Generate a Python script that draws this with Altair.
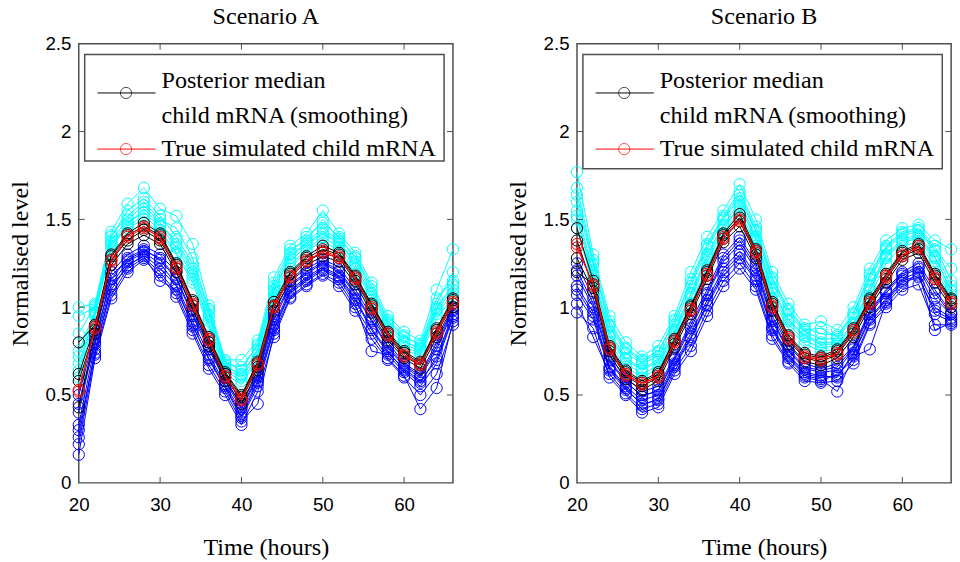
import altair as alt
import pandas as pd

hours = list(range(20, 67, 2))

# ---------------- Scenario A ----------------
a_cyan = [
    [1.00, 1.02, 1.43, 1.59, 1.68, 1.56, 1.52, 1.36, 1.01, 0.70, 0.70, 0.81, 1.17, 1.35, 1.42, 1.55, 1.42, 1.31, 1.14, 0.95, 0.86, 0.81, 1.10, 1.33],
    [0.95, 1.00, 1.40, 1.55, 1.62, 1.52, 1.40, 1.25, 0.98, 0.68, 0.66, 0.78, 1.12, 1.31, 1.40, 1.48, 1.40, 1.28, 1.10, 0.92, 0.83, 0.79, 1.05, 1.15],
    [0.85, 1.01, 1.41, 1.52, 1.60, 1.50, 1.45, 1.28, 0.99, 0.69, 0.64, 0.79, 1.14, 1.33, 1.38, 1.50, 1.39, 1.29, 1.12, 0.93, 0.84, 0.78, 1.02, 1.20],
    [0.75, 0.98, 1.38, 1.50, 1.58, 1.48, 1.36, 1.20, 0.95, 0.66, 0.62, 0.75, 1.10, 1.28, 1.37, 1.45, 1.38, 1.24, 1.06, 0.90, 0.80, 0.77, 1.00, 1.12],
    [0.68, 0.96, 1.36, 1.48, 1.54, 1.46, 1.34, 1.18, 0.92, 0.65, 0.60, 0.73, 1.07, 1.26, 1.35, 1.42, 1.36, 1.22, 1.04, 0.88, 0.79, 0.75, 0.98, 1.10],
    [0.64, 0.97, 1.33, 1.47, 1.56, 1.47, 1.38, 1.22, 0.96, 0.67, 0.61, 0.76, 1.09, 1.30, 1.36, 1.43, 1.37, 1.26, 1.08, 0.91, 0.81, 0.76, 0.99, 1.13],
    [0.60, 0.95, 1.35, 1.46, 1.52, 1.44, 1.31, 1.16, 0.90, 0.64, 0.58, 0.71, 1.05, 1.24, 1.33, 1.40, 1.34, 1.19, 1.01, 0.86, 0.77, 0.74, 0.96, 1.08],
    [0.72, 0.97, 1.37, 1.45, 1.50, 1.42, 1.30, 1.14, 0.88, 0.62, 0.56, 0.70, 1.03, 1.22, 1.32, 1.38, 1.32, 1.15, 0.97, 0.84, 0.75, 0.73, 0.93, 1.06],
]
a_blue = [
    [0.50, 0.85, 1.20, 1.30, 1.35, 1.30, 1.20, 0.98, 0.80, 0.62, 0.45, 0.62, 0.97, 1.15, 1.22, 1.27, 1.23, 1.10, 0.95, 0.80, 0.68, 0.62, 0.80, 1.00],
    [0.45, 0.80, 1.18, 1.27, 1.32, 1.28, 1.17, 0.96, 0.78, 0.60, 0.43, 0.61, 0.95, 1.13, 1.20, 1.26, 1.21, 1.08, 0.93, 0.78, 0.67, 0.61, 0.78, 0.99],
    [0.40, 0.82, 1.16, 1.28, 1.33, 1.27, 1.16, 0.95, 0.76, 0.58, 0.42, 0.60, 0.93, 1.12, 1.19, 1.25, 1.20, 1.07, 0.92, 0.77, 0.66, 0.60, 0.76, 0.98],
    [0.33, 0.79, 1.13, 1.26, 1.31, 1.25, 1.13, 0.92, 0.73, 0.56, 0.40, 0.58, 0.90, 1.10, 1.17, 1.23, 1.18, 1.05, 0.88, 0.75, 0.64, 0.57, 0.72, 0.96],
    [0.30, 0.74, 1.12, 1.23, 1.30, 1.22, 1.12, 0.89, 0.71, 0.55, 0.38, 0.57, 0.88, 1.09, 1.16, 1.22, 1.17, 1.04, 0.87, 0.74, 0.65, 0.58, 0.70, 0.95],
    [0.26, 0.76, 1.10, 1.24, 1.29, 1.15, 1.10, 0.90, 0.70, 0.54, 0.37, 0.55, 0.87, 1.08, 1.15, 1.21, 1.16, 1.02, 0.75, 0.73, 0.63, 0.55, 0.68, 0.94],
    [0.22, 0.73, 1.07, 1.22, 1.28, 1.20, 1.08, 0.87, 0.67, 0.52, 0.35, 0.45, 0.85, 1.06, 1.13, 1.19, 1.14, 1.00, 0.85, 0.71, 0.61, 0.42, 0.54, 0.92],
    [0.16, 0.71, 1.05, 1.20, 1.27, 1.18, 1.06, 0.85, 0.65, 0.50, 0.33, 0.52, 0.83, 1.05, 1.12, 1.18, 1.12, 0.98, 0.82, 0.70, 0.60, 0.50, 0.62, 0.90],
]
a_median = [
    [0.80, 0.90, 1.30, 1.42, 1.48, 1.42, 1.25, 1.04, 0.83, 0.63, 0.50, 0.69, 1.03, 1.20, 1.29, 1.35, 1.31, 1.18, 1.02, 0.86, 0.75, 0.69, 0.88, 1.05],
    [0.58, 0.87, 1.27, 1.38, 1.44, 1.38, 1.22, 1.01, 0.80, 0.60, 0.47, 0.66, 1.00, 1.17, 1.26, 1.31, 1.28, 1.15, 0.99, 0.83, 0.72, 0.67, 0.85, 1.02],
    [0.43, 0.85, 1.24, 1.36, 1.41, 1.36, 1.20, 0.99, 0.78, 0.58, 0.45, 0.64, 0.98, 1.15, 1.24, 1.29, 1.26, 1.13, 0.97, 0.81, 0.71, 0.65, 0.83, 1.00],
    [0.62, 0.89, 1.29, 1.41, 1.46, 1.41, 1.24, 1.03, 0.82, 0.62, 0.49, 0.68, 1.01, 1.19, 1.28, 1.33, 1.30, 1.17, 1.01, 0.85, 0.74, 0.68, 0.87, 1.04],
]
a_true = [
    [0.53, 0.88, 1.26, 1.40, 1.45, 1.40, 1.22, 1.02, 0.81, 0.61, 0.48, 0.67, 1.00, 1.17, 1.26, 1.32, 1.29, 1.16, 1.00, 0.84, 0.73, 0.67, 0.86, 1.03],
    [0.52, 0.89, 1.27, 1.41, 1.46, 1.39, 1.23, 1.01, 0.82, 0.60, 0.47, 0.68, 1.01, 1.18, 1.27, 1.31, 1.28, 1.17, 0.99, 0.85, 0.72, 0.68, 0.85, 1.02],
]

# ---------------- Scenario B ----------------
b_cyan = [
    [1.77, 1.30, 0.95, 0.80, 0.72, 0.78, 0.95, 1.20, 1.40, 1.55, 1.70, 1.50, 1.20, 1.02, 0.90, 0.92, 0.87, 1.00, 1.22, 1.38, 1.45, 1.47, 1.38, 1.33],
    [1.68, 1.27, 0.92, 0.77, 0.70, 0.75, 0.92, 1.16, 1.36, 1.52, 1.66, 1.46, 1.17, 0.99, 0.88, 0.85, 0.84, 0.97, 1.19, 1.35, 1.43, 1.45, 1.35, 1.15],
    [1.64, 1.25, 0.90, 0.76, 0.69, 0.74, 0.93, 1.14, 1.35, 1.51, 1.64, 1.44, 1.16, 0.98, 0.87, 0.88, 0.83, 0.96, 1.18, 1.34, 1.42, 1.44, 1.33, 1.22],
    [1.60, 1.24, 0.89, 0.74, 0.68, 0.72, 0.90, 1.12, 1.33, 1.50, 1.62, 1.43, 1.14, 0.96, 0.86, 0.82, 0.82, 0.94, 1.16, 1.33, 1.41, 1.43, 1.32, 1.12],
    [1.55, 1.20, 0.86, 0.71, 0.65, 0.70, 0.87, 1.08, 1.30, 1.47, 1.60, 1.40, 1.11, 0.93, 0.84, 0.80, 0.80, 0.91, 1.12, 1.30, 1.39, 1.41, 1.29, 1.09],
    [1.52, 1.18, 0.84, 0.70, 0.64, 0.69, 0.86, 1.07, 1.28, 1.46, 1.57, 1.39, 1.10, 0.92, 0.83, 0.79, 0.79, 0.90, 1.10, 1.29, 1.38, 1.40, 1.28, 1.10],
    [1.50, 1.16, 0.83, 0.68, 0.62, 0.67, 0.85, 1.05, 1.26, 1.44, 1.58, 1.38, 1.08, 0.90, 0.81, 0.77, 0.78, 0.88, 1.09, 1.28, 1.37, 1.39, 1.26, 1.07],
    [1.45, 1.12, 0.80, 0.66, 0.60, 0.65, 0.83, 1.02, 1.23, 1.42, 1.55, 1.35, 1.05, 0.88, 0.79, 0.75, 0.76, 0.86, 1.06, 1.25, 1.35, 1.37, 1.23, 1.05],
]
b_blue = [
    [1.25, 1.05, 0.72, 0.60, 0.52, 0.55, 0.72, 0.92, 1.10, 1.30, 1.40, 1.25, 0.95, 0.78, 0.68, 0.65, 0.68, 0.78, 0.98, 1.10, 1.20, 1.25, 1.10, 0.97],
    [1.21, 1.02, 0.70, 0.58, 0.49, 0.53, 0.71, 0.90, 1.08, 1.28, 1.38, 1.23, 0.93, 0.76, 0.66, 0.64, 0.66, 0.77, 0.97, 1.09, 1.19, 1.23, 1.08, 0.96],
    [1.18, 1.00, 0.69, 0.57, 0.50, 0.52, 0.70, 0.88, 1.07, 1.26, 1.36, 1.21, 0.92, 0.75, 0.65, 0.63, 0.64, 0.76, 0.96, 1.08, 1.18, 1.22, 1.05, 0.96],
    [1.12, 0.97, 0.66, 0.55, 0.47, 0.50, 0.68, 0.85, 1.04, 1.22, 1.32, 1.18, 0.89, 0.73, 0.63, 0.61, 0.60, 0.74, 0.94, 1.05, 1.16, 1.20, 1.00, 0.94],
    [1.10, 0.95, 0.65, 0.54, 0.44, 0.48, 0.67, 0.83, 1.02, 1.20, 1.30, 1.16, 0.88, 0.72, 0.62, 0.60, 0.61, 0.73, 0.93, 1.04, 1.15, 1.18, 0.96, 0.92],
    [1.07, 0.93, 0.64, 0.53, 0.45, 0.47, 0.66, 0.82, 1.01, 1.18, 1.28, 1.15, 0.87, 0.71, 0.61, 0.59, 0.52, 0.72, 0.76, 1.03, 1.14, 1.17, 0.98, 0.93],
    [1.02, 0.83, 0.62, 0.51, 0.42, 0.45, 0.64, 0.78, 0.98, 1.15, 1.25, 1.12, 0.84, 0.69, 0.60, 0.58, 0.62, 0.70, 0.91, 1.02, 1.12, 1.20, 0.87, 0.91],
    [0.97, 0.88, 0.60, 0.50, 0.40, 0.43, 0.62, 0.75, 0.95, 1.12, 1.22, 1.10, 0.82, 0.68, 0.58, 0.57, 0.58, 0.68, 0.90, 1.00, 1.10, 1.13, 0.90, 0.90],
]
b_median = [
    [1.45, 1.15, 0.78, 0.64, 0.58, 0.63, 0.82, 1.01, 1.21, 1.42, 1.53, 1.33, 1.03, 0.84, 0.74, 0.72, 0.76, 0.88, 1.05, 1.19, 1.32, 1.36, 1.19, 1.05],
    [1.38, 1.11, 0.75, 0.61, 0.55, 0.60, 0.79, 0.98, 1.18, 1.39, 1.49, 1.30, 1.00, 0.81, 0.71, 0.69, 0.73, 0.85, 1.02, 1.16, 1.29, 1.33, 1.16, 1.02],
    [1.28, 1.09, 0.73, 0.59, 0.53, 0.58, 0.77, 0.96, 1.16, 1.37, 1.46, 1.28, 0.98, 0.79, 0.69, 0.67, 0.71, 0.83, 1.00, 1.14, 1.27, 1.31, 1.14, 1.00],
    [1.20, 1.13, 0.77, 0.63, 0.57, 0.62, 0.81, 1.00, 1.20, 1.41, 1.51, 1.32, 1.02, 0.83, 0.73, 0.71, 0.75, 0.87, 1.04, 1.18, 1.31, 1.35, 1.18, 1.04],
]
b_true = [
    [1.36, 1.12, 0.76, 0.62, 0.56, 0.61, 0.80, 0.99, 1.18, 1.40, 1.50, 1.31, 1.01, 0.82, 0.72, 0.70, 0.74, 0.86, 1.03, 1.17, 1.30, 1.34, 1.17, 1.03],
    [1.34, 1.13, 0.77, 0.61, 0.57, 0.60, 0.81, 0.98, 1.19, 1.39, 1.49, 1.32, 1.00, 0.83, 0.71, 0.71, 0.73, 0.87, 1.02, 1.18, 1.29, 1.35, 1.16, 1.02],
]

x_ticks = [20, 30, 40, 50, 60]
y_ticks = [0, 0.5, 1, 1.5, 2, 2.5]

SERIF = "Liberation Serif"
SANS = "Liberation Sans"
SERIF_SIZE = 24.5
W, H = 380, 446
FRAME = "#4d4d4d"
MARKER = 130


def long_table(series_list, tag):
    rows = []
    for i, series in enumerate(series_list):
        for t, v in zip(hours, series):
            rows.append({"t": t, "v": v, "run": f"{tag}{i}"})
    return pd.DataFrame(rows)


x_enc = alt.X(
    "t:Q",
    scale=alt.Scale(domain=[20, 66], nice=False, zero=False),
    axis=alt.Axis(values=x_ticks, title="Time (hours)"),
)
y_enc = alt.Y(
    "v:Q",
    scale=alt.Scale(domain=[0, 2.5], nice=False),
    axis=alt.Axis(values=y_ticks, format="~g", title="Normalised level"),
)


def runs(series_list, tag, color):
    base = alt.Chart(long_table(series_list, tag)).encode(x=x_enc, y=y_enc, detail="run:N")
    line = base.mark_line(color=color, strokeWidth=1)
    pts = base.mark_point(shape="circle", filled=False, color=color, size=MARKER, strokeWidth=1, opacity=1)
    return [line, pts]


def inner_ticks():
    xt = alt.Chart(pd.DataFrame({"t": x_ticks[1:]}))
    yt = alt.Chart(pd.DataFrame({"v": y_ticks[1:-1]}))
    return [
        xt.mark_rule(color=FRAME).encode(x=alt.X("t:Q"), y=alt.value(H), y2=alt.value(H - 6)),
        xt.mark_rule(color=FRAME).encode(x=alt.X("t:Q"), y=alt.value(0), y2=alt.value(6)),
        yt.mark_rule(color=FRAME).encode(y=alt.Y("v:Q"), x=alt.value(0), x2=alt.value(6)),
        yt.mark_rule(color=FRAME).encode(y=alt.Y("v:Q"), x=alt.value(W - 6), x2=alt.value(W)),
    ]


def legend_box(bottom):
    one = alt.Chart(pd.DataFrame({"k": [0]}))
    txt = dict(align="left", baseline="middle", font=SERIF, fontSize=SERIF_SIZE, color="black")
    return [
        one.mark_rect(fill="white", stroke=FRAME, strokeWidth=1.5).encode(
            x=alt.value(6), x2=alt.value(371), y=alt.value(11), y2=alt.value(bottom)
        ),
        one.mark_rule(color="black", strokeWidth=1).encode(x=alt.value(19), x2=alt.value(78), y=alt.value(50)),
        one.mark_point(shape="circle", filled=False, color="black", size=MARKER, strokeWidth=1).encode(
            x=alt.value(48), y=alt.value(50)
        ),
        one.mark_rule(color="red", strokeWidth=1).encode(x=alt.value(19), x2=alt.value(78), y=alt.value(107)),
        one.mark_point(shape="circle", filled=False, color="red", size=MARKER, strokeWidth=1).encode(
            x=alt.value(48), y=alt.value(107)
        ),
        one.mark_text(**txt).encode(x=alt.value(84), y=alt.value(38), text=alt.value("Posterior median")),
        one.mark_text(**txt).encode(x=alt.value(84), y=alt.value(73), text=alt.value("child mRNA (smoothing)")),
        one.mark_text(**txt).encode(x=alt.value(84), y=alt.value(107), text=alt.value("True simulated child mRNA")),
    ]


def panel(title, cyan, blue, median, true, legend_bottom):
    layers = (
        runs(cyan, "c", "#00ffff")
        + runs(blue, "b", "#0000ff")
        + runs(median, "k", "black")
        + runs(true, "r", "#ff0000")
        + inner_ticks()
        + legend_box(legend_bottom)
    )
    return alt.layer(*layers).properties(
        width=W,
        height=H,
        title=alt.TitleParams(title, font=SERIF, fontSize=SERIF_SIZE, fontWeight="normal", color="black", offset=6),
    )


chart = (
    alt.hconcat(
        panel("Scenario A", a_cyan, a_blue, a_median, a_true, 119),
        panel("Scenario B", b_cyan, b_blue, b_median, b_true, 127),
        spacing=126,
        bounds="flush",
    )
    .properties(padding={"left": 6, "top": -2, "right": 0, "bottom": 0}, background="white")
    .configure_view(stroke=FRAME, strokeWidth=1.5)
    .configure_axis(
        domain=False,
        ticks=False,
        tickSize=0,
        grid=False,
        labelFlush=False,
        labelFont=SANS,
        labelFontSize=19,
        labelColor="black",
        titleFont=SERIF,
        titleFontSize=SERIF_SIZE,
        titleFontWeight="normal",
        titleColor="black",
    )
    .configure_axisX(labelPadding=13, titlePadding=22)
    .configure_axisY(labelPadding=8, titlePadding=13)
)

chart.save("out.html", embed_options={"renderer": "svg", "actions": False})
